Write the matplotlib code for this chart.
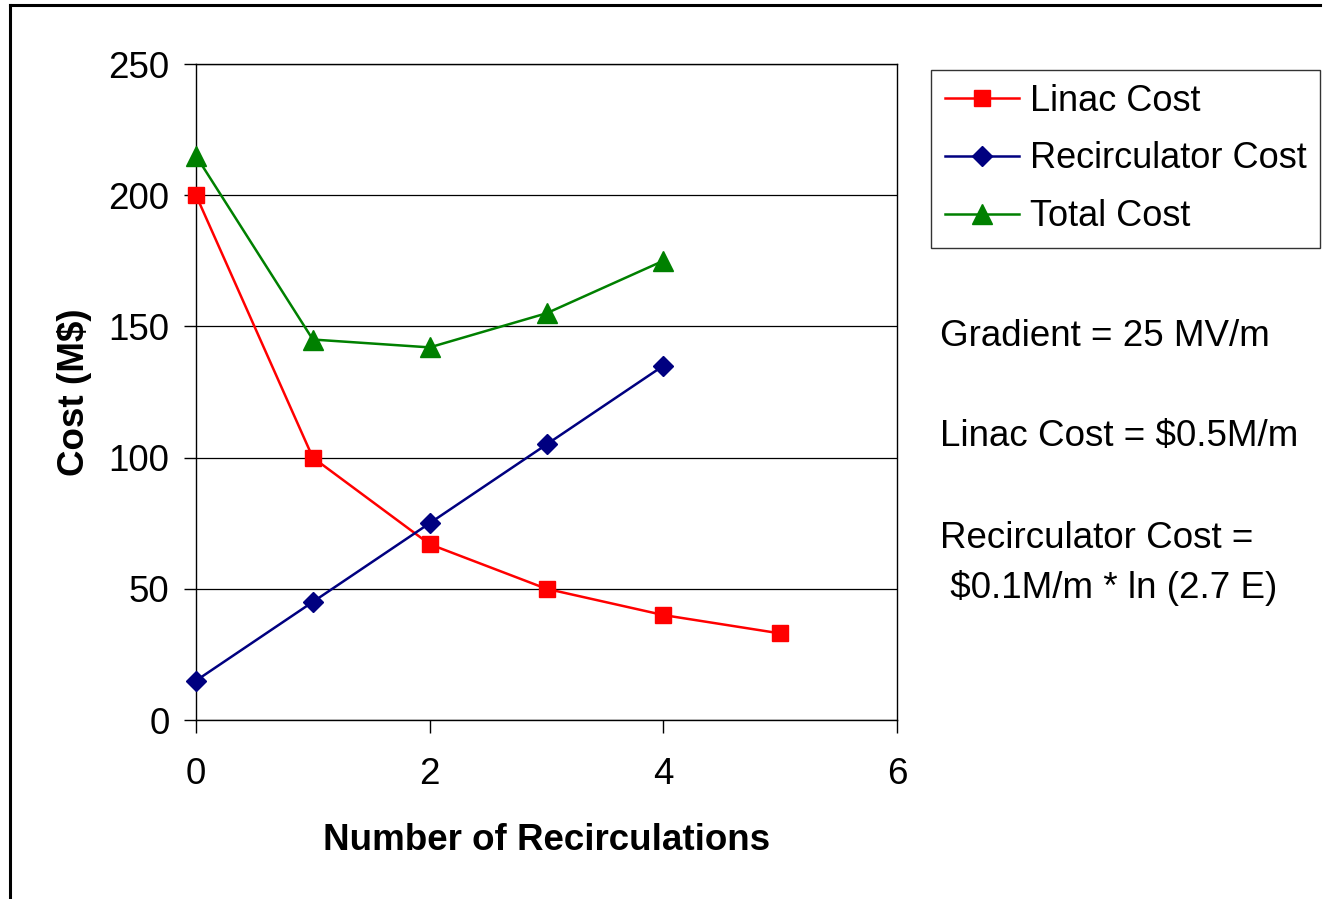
import matplotlib
matplotlib.use("Agg")
import matplotlib.pyplot as plt

plt.rcParams['font.family'] = ['Liberation Sans', 'DejaVu Sans']

# Data
recirculations = [0, 1, 2, 3, 4, 5]
linac_cost = [200, 100, 67, 50, 40, 33]
recirc_x = [0, 1, 2, 3, 4]
recirculator_cost = [15, 45, 75, 105, 135]
total_cost = [215, 145, 142, 155, 175]

x_ticks = [0, 2, 4, 6]
y_ticks = [0, 50, 100, 150, 200, 250]

notes = [
    ("Gradient = 25 MV/m", 337),
    ("Linac Cost = $0.5M/m", 437),
    ("Recirculator Cost =", 538),
    (" $0.1M/m * ln (2.7 E)", 588),
]

FS = 26.5
W, H = 1323, 899
fig = plt.figure(figsize=(W / 100, H / 100), dpi=100)
fig.patch.set_facecolor('white')

# Outer chart border (left and top edges visible)
fig.add_artist(plt.Line2D([10 / W, 10 / W], [0, 1 - 5 / H], color='black', lw=2.2,
                          transform=fig.transFigure))
fig.add_artist(plt.Line2D([10 / W, 1320 / W], [1 - 5 / H, 1 - 5 / H], color='black', lw=2.2,
                          transform=fig.transFigure))

left, right, top, bottom = 196, 897, 64, 720
ax = fig.add_axes([left / W, 1 - bottom / H, (right - left) / W, (bottom - top) / H])

ax.plot(recirculations, linac_cost, color='#FF0000', lw=1.8, marker='s', ms=11.5,
        label='Linac Cost', clip_on=False, zorder=3)
ax.plot(recirc_x, recirculator_cost, color='#000080', lw=1.8, marker='D', ms=10,
        label='Recirculator Cost', clip_on=False, zorder=3)
ax.plot(recirc_x, total_cost, color='#008000', lw=1.8, marker='^', ms=14,
        label='Total Cost', clip_on=False, zorder=3)

ax.set_xlim(0, 6)
ax.set_ylim(0, 250)
ax.set_xticks(x_ticks)
ax.set_yticks(y_ticks)
ax.yaxis.grid(True, color='black', lw=0.9)
ax.set_axisbelow(True)
for s in ax.spines.values():
    s.set_color('black')
    s.set_linewidth(1.0)
ax.tick_params(axis='both', direction='out', length=9, width=1.0, labelsize=FS, colors='black')
ax.tick_params(axis='x', pad=18)
ax.tick_params(axis='y', pad=10)

ax.set_xlabel('Number of Recirculations', fontsize=FS, fontweight='bold', labelpad=22)
ax.set_ylabel('Cost (M$)', fontsize=FS, fontweight='bold', labelpad=12)

leg = fig.legend(loc='upper left', bbox_to_anchor=(931 / W, 1 - 70 / H), frameon=True,
                 fancybox=False, edgecolor='black', fontsize=26, handlelength=2.05,
                 handletextpad=0.3, labelspacing=0.63, borderpad=0.38, borderaxespad=0)
leg.get_frame().set_linewidth(1.0)

for text, ypix in notes:
    fig.text(940 / W, 1 - ypix / H, text, fontsize=FS, va='center', ha='left')

fig.savefig('out.png', dpi=100)
